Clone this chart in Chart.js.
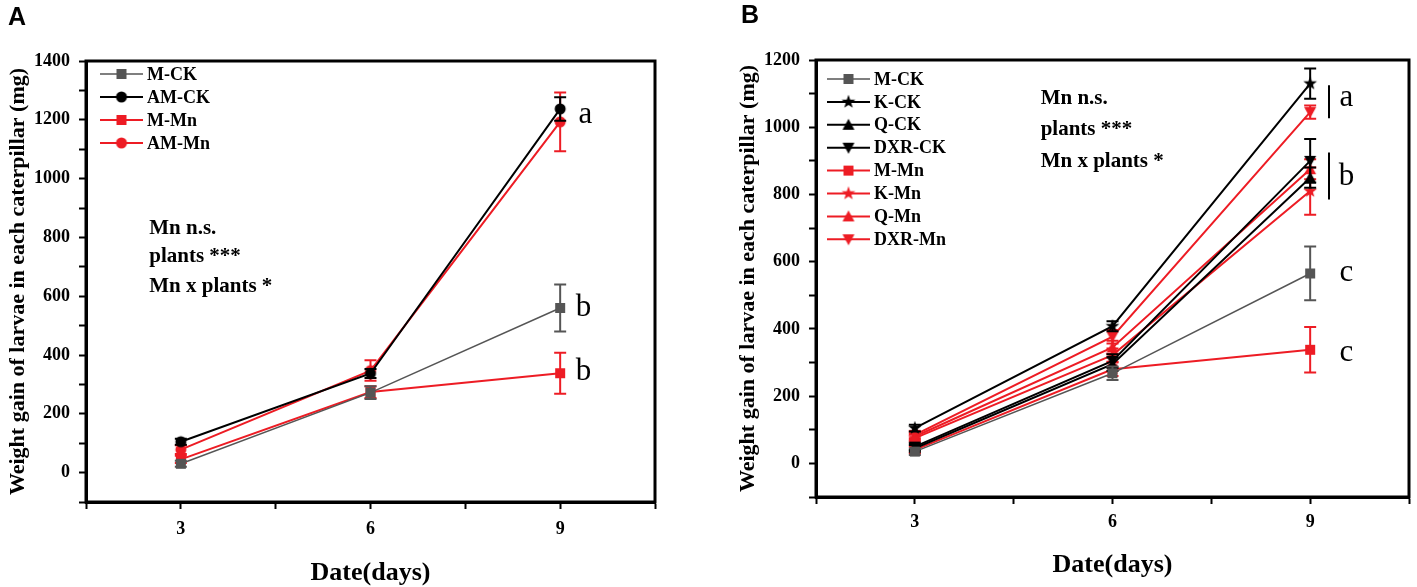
<!DOCTYPE html>
<html>
<head>
<meta charset="utf-8">
<script src="https://cdn.jsdelivr.net/npm/chart.js@4.4.1/dist/chart.umd.min.js"></script>
<style>
  html, body { margin: 0; padding: 0; background: #fff; }
  #wrap { position: relative; width: 1417px; height: 587px; overflow: hidden; }
  .panel { position: absolute; top: 0; height: 587px; }
  #pa { left: 0; width: 700px; }
  #pb { left: 700px; width: 717px; }
  .tag { position: absolute; font: bold 25px "Liberation Sans", Arial, sans-serif; line-height: 1; color: #000; }
</style>
</head>
<body>
<div id="wrap">
  <div class="panel" id="pa"><canvas id="chartA" width="700" height="587"></canvas></div>
  <div class="panel" id="pb"><canvas id="chartB" width="717" height="587"></canvas></div>
  <div class="tag" style="left:8px;top:4px">A</div>
  <div class="tag" style="left:741px;top:2px">B</div>
</div>
<script>
// ===== data =====
const days = [3, 6, 9];
const xTickLabels = [3, 6, 9];
const yTickLabelsA = [0, 200, 400, 600, 800, 1000, 1200, 1400];
const yTickLabelsB = [0, 200, 400, 600, 800, 1000, 1200];

// panel A (mean, +/- error)
const aMCK = [30, 272, 560];      const aMCKErr = [10, 22, 80];
const aAMCK = [105, 337, 1237];   const aAMCKErr = [10, 15, 40];
const aMMn = [45, 274, 338];      const aMMnErr = [12, 20, 70];
const aAMMn = [78, 347, 1193];    const aAMMnErr = [15, 35, 100];

// panel B
const bMCK = [35, 268, 565];      const bMCKErr = [10, 20, 80];
const bKCK = [105, 408, 1130];    const bKCKErr = [10, 15, 45];
const bQCK = [45, 295, 850];      const bQCKErr = [10, 20, 30];
const bDXRCK = [50, 305, 900];    const bDXRCKErr = [10, 20, 65];
const bMMn = [40, 280, 338];      const bMMnErr = [10, 20, 68];
const bKMn = [75, 322, 810];      const bKMnErr = [10, 20, 70];
const bQMn = [80, 345, 875];      const bQMnErr = [10, 20, 30];
const bDXRMn = [85, 377, 1045];   const bDXRMnErr = [10, 20, 20];

const notes = ['Mn n.s.', 'plants ***', 'Mn x plants *'];

// ===== style =====
const RED = '#ed1c24', GRAY = '#555555', BLACK = '#000000';
const SERIF = '"Liberation Serif", "Times New Roman", serif';

function makeMarker(shape, color) {
  const s = 16, m = s / 2;
  const c = document.createElement('canvas');
  c.width = s; c.height = s;
  const g = c.getContext('2d');
  g.fillStyle = color;
  g.beginPath();
  if (shape === 'square') g.rect(m - 5, m - 5, 10, 10);
  else if (shape === 'circle') g.arc(m, m, 5.5, 0, Math.PI * 2);
  else if (shape === 'tri') { g.moveTo(m, m - 6); g.lineTo(m + 6, m + 5); g.lineTo(m - 6, m + 5); g.closePath(); }
  else if (shape === 'tridown') { g.moveTo(m, m + 6); g.lineTo(m + 6, m - 5); g.lineTo(m - 6, m - 5); g.closePath(); }
  else if (shape === 'star') {
    for (let i = 0; i < 10; i++) {
      const r = i % 2 ? 2.9 : 7.2, a = -Math.PI / 2 + i * Math.PI / 5;
      g.lineTo(m + r * Math.cos(a), m + r * Math.sin(a));
    }
    g.closePath();
  }
  g.fill();
  return c;
}

function series(label, values, errors, color, shape, width) {
  return {
    label,
    data: days.map((d, i) => ({ x: d, y: values[i] })),
    errors,
    borderColor: color, backgroundColor: color, borderWidth: width,
    pointStyle: makeMarker(shape, color), pointRadius: 6, tension: 0
  };
}

// ===== plugins =====
const errorBars = {
  id: 'errorBars',
  beforeDatasetDraw(chart, args) {
    const ds = chart.data.datasets[args.index];
    if (!ds.errors) return;
    const xs = chart.scales.x, ys = chart.scales.y, ctx = chart.ctx;
    ctx.save();
    ctx.strokeStyle = ds.borderColor; ctx.lineWidth = 2;
    ds.data.forEach((p, i) => {
      const e = ds.errors[i];
      const px = xs.getPixelForValue(p.x);
      const top = ys.getPixelForValue(p.y + e), bot = ys.getPixelForValue(p.y - e);
      ctx.beginPath();
      ctx.moveTo(px, top); ctx.lineTo(px, bot);
      ctx.moveTo(px - 6, top); ctx.lineTo(px + 6, top);
      ctx.moveTo(px - 6, bot); ctx.lineTo(px + 6, bot);
      ctx.stroke();
    });
    ctx.restore();
  }
};

const extras = {
  id: 'extras',
  afterDraw(chart, args, opts) {
    const { ctx, chartArea: ca } = chart;
    const xs = chart.scales.x, ys = chart.scales.y;
    ctx.save();
    // box
    ctx.strokeStyle = '#000'; ctx.lineWidth = 3;
    ctx.strokeRect(ca.left, ca.top, ca.right - ca.left, ca.bottom - ca.top);

    // legend inside the plot
    ctx.textAlign = 'left'; ctx.textBaseline = 'middle';
    ctx.font = 'bold 18px ' + SERIF;
    chart.data.datasets.forEach((ds, i) => {
      const y = ca.top + opts.legend.y + i * opts.legend.gap;
      const x0 = ca.left + opts.legend.x;
      ctx.strokeStyle = ds.borderColor; ctx.lineWidth = ds.borderWidth;
      ctx.beginPath(); ctx.moveTo(x0, y); ctx.lineTo(x0 + 43, y); ctx.stroke();
      const img = ds.pointStyle;
      ctx.drawImage(img, x0 + 21.5 - img.width / 2, y - img.height / 2);
      ctx.fillStyle = '#000';
      ctx.fillText(ds.label, x0 + 47, y + 1);
    });

    // statistics notes
    ctx.font = 'bold 21px ' + SERIF;
    ctx.fillStyle = '#000';
    opts.notes.forEach(n => ctx.fillText(n.text, xs.getPixelForValue(n.x), ys.getPixelForValue(n.y)));

    // group bars and letters
    ctx.strokeStyle = '#000'; ctx.lineWidth = 2;
    (opts.bars || []).forEach(b => {
      const px = Math.round(xs.getPixelForValue(b.x));
      ctx.beginPath(); ctx.moveTo(px, ys.getPixelForValue(b.from)); ctx.lineTo(px, ys.getPixelForValue(b.to)); ctx.stroke();
    });
    ctx.font = '31px ' + SERIF;
    ctx.textAlign = 'center';
    opts.letters.forEach(l => ctx.fillText(l.text, xs.getPixelForValue(l.x), ys.getPixelForValue(l.y)));
    ctx.restore();
  }
};

function makeOptions(cfg) {
  const tickFont = { family: SERIF, weight: 'bold', size: 18 };
  return {
    responsive: false, animation: false, devicePixelRatio: 1,
    layout: { padding: cfg.pad },
    plugins: { legend: { display: false }, tooltip: { enabled: false }, extras: cfg.extras },
    scales: {
      x: {
        type: 'linear', min: 1.5, max: 10.5,
        ticks: { stepSize: 1.5, font: tickFont, color: '#000', padding: cfg.xPad,
                 callback: v => xTickLabels.includes(v) ? v : '' },
        grid: { drawOnChartArea: false, drawTicks: true, tickLength: 7, tickWidth: 2, tickColor: '#000' },
        border: { display: true, color: '#000', width: 3 },
        title: { display: true, text: 'Date(days)', color: '#000',
                 font: { family: SERIF, weight: 'bold', size: 26, lineHeight: 1 }, padding: { top: 0, bottom: cfg.xTitlePad } },
        afterFit: s => { s.height = cfg.xHeight; }
      },
      y: {
        type: 'linear', min: -100, max: cfg.yMax,
        ticks: { stepSize: 100, font: tickFont, color: '#000', padding: 9,
                 callback: v => cfg.yLabels.includes(v) ? v : '' },
        grid: { drawOnChartArea: false, drawTicks: true, tickLength: 7, tickWidth: 2, tickColor: '#000' },
        border: { display: true, color: '#000', width: 3 },
        title: { display: true, text: 'Weight gain of larvae in each caterpillar (mg)', color: '#000',
                 font: { family: SERIF, weight: 'bold', size: 22, lineHeight: 1.2 }, padding: { top: cfg.yTitlePad, bottom: 0 } },
        afterFit: s => { s.width = cfg.yWidth; }
      }
    }
  };
}

// ===== panel A =====
new Chart(document.getElementById('chartA'), {
  type: 'line',
  data: {
    datasets: [
      series('M-CK', aMCK, aMCKErr, GRAY, 'square', 1.5),
      series('AM-CK', aAMCK, aAMCKErr, BLACK, 'circle', 2),
      series('M-Mn', aMMn, aMMnErr, RED, 'square', 2),
      series('AM-Mn', aAMMn, aAMMnErr, RED, 'circle', 2)
    ]
  },
  options: makeOptions({
    pad: { top: 61, right: 45, bottom: 0, left: 0 },
    yMax: 1400, yLabels: yTickLabelsA, yWidth: 86, yTitlePad: 5,
    xHeight: 85, xPad: 10, xTitlePad: 1,
    extras: {
      legend: { x: 14, y: 13, gap: 23 },
      notes: [{ text: notes[0], x: 2.5, y: 830 }, { text: notes[1], x: 2.5, y: 735 }, { text: notes[2], x: 2.5, y: 633 }],
      letters: [{ text: 'a', x: 9.4, y: 1217 }, { text: 'b', x: 9.37, y: 562 }, { text: 'b', x: 9.37, y: 343 }]
    }
  }),
  plugins: [errorBars, extras]
});

// ===== panel B =====
new Chart(document.getElementById('chartB'), {
  type: 'line',
  data: {
    datasets: [
      series('M-CK', bMCK, bMCKErr, GRAY, 'square', 1.5),
      series('K-CK', bKCK, bKCKErr, BLACK, 'star', 2),
      series('Q-CK', bQCK, bQCKErr, BLACK, 'tri', 2),
      series('DXR-CK', bDXRCK, bDXRCKErr, BLACK, 'tridown', 2),
      series('M-Mn', bMMn, bMMnErr, RED, 'square', 2),
      series('K-Mn', bKMn, bKMnErr, RED, 'star', 2),
      series('Q-Mn', bQMn, bQMnErr, RED, 'tri', 2),
      series('DXR-Mn', bDXRMn, bDXRMnErr, RED, 'tridown', 2)
    ]
  },
  options: makeOptions({
    pad: { top: 60, right: 1, bottom: 0, left: 0 },
    yMax: 1200, yLabels: yTickLabelsB, yWidth: 116, yTitlePad: 35,
    xHeight: 90, xPad: 8, xTitlePad: 9,
    extras: {
      legend: { x: 11, y: 19, gap: 22.9 },
      notes: [{ text: notes[0], x: 4.91, y: 1084 }, { text: notes[1], x: 4.91, y: 994 }, { text: notes[2], x: 4.91, y: 899 }],
      bars: [{ x: 9.29, from: 1125, to: 1027 }, { x: 9.29, from: 925, to: 785 }],
      letters: [{ text: 'a', x: 9.55, y: 1086 }, { text: 'b', x: 9.55, y: 851 }, { text: 'c', x: 9.55, y: 567 }, { text: 'c', x: 9.55, y: 328 }]
    }
  }),
  plugins: [errorBars, extras]
});
</script>
</body>
</html>
